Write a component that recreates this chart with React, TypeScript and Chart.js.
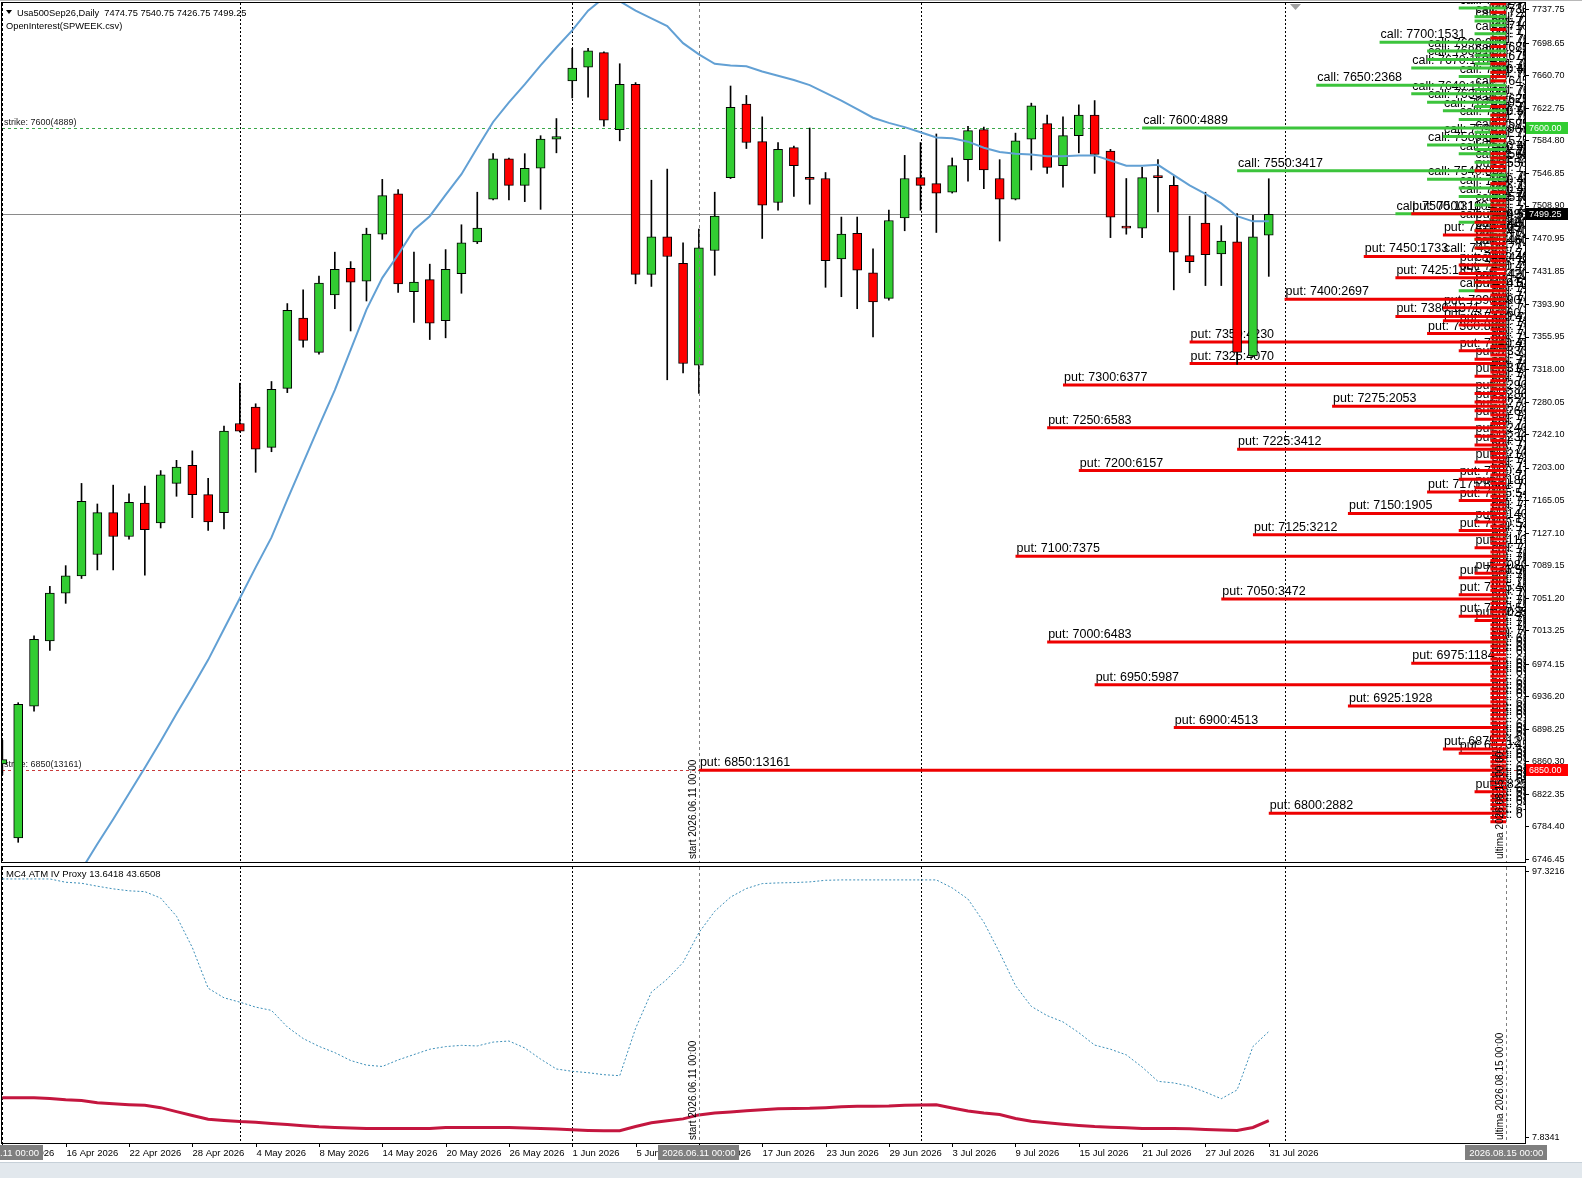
// App.tsx
import { useEffect, useRef } from "react";
import { Chart, registerables } from "chart.js";

// Register Chart.js components
Chart.register(...registerables);

// ---- daily bars, 10 Apr 2026 .. 31 Jul 2026 (the first one is cut by the left edge) ----
const opens = [
  6857.5, 6771, 6925, 7001, 7057, 7077, 7102, 7151, 7123, 7162, 7139, 7185, 7206, 7172, 7151, 7255,
  7274, 7227, 7296, 7378, 7338, 7405, 7436, 7421, 7476, 7523, 7409, 7423, 7375, 7430, 7467, 7517,
  7564, 7533, 7553, 7587, 7655, 7671, 7688, 7598, 7651, 7429, 7473, 7442, 7323, 7457, 7542, 7628,
  7584, 7513, 7577, 7542, 7541, 7447, 7477, 7431, 7401, 7495, 7542, 7535, 7525, 7563, 7598, 7541,
  7517, 7587, 7605, 7556, 7591, 7615, 7573, 7485, 7483, 7544, 7533, 7451, 7489, 7453, 7467, 7334,
  7474.75,
];
const highs = [
  6885, 6929, 7007, 7065, 7089, 7185, 7161, 7183, 7173, 7182, 7200, 7212, 7223, 7191, 7252, 7302,
  7278, 7304, 7395, 7411, 7427, 7455, 7444, 7483, 7540, 7528, 7455, 7441, 7458, 7487, 7525, 7570,
  7565, 7570, 7591, 7611, 7693, 7693, 7689, 7675, 7653, 7539, 7552, 7466, 7482, 7525, 7649, 7638,
  7613, 7583, 7579, 7600, 7548, 7496, 7496, 7459, 7504, 7568, 7583, 7593, 7565, 7602, 7601, 7563,
  7594, 7629, 7615, 7613, 7627, 7632, 7575, 7541, 7554, 7563, 7544, 7497, 7525, 7486, 7500, 7498,
  7540.75,
];
const lows = [
  6845, 6766, 6919, 6990, 7045, 7074, 7084, 7084, 7120, 7078, 7133, 7170, 7145, 7130, 7132, 7245,
  7198, 7222, 7291, 7344, 7336, 7389, 7363, 7398, 7470, 7408, 7373, 7353, 7355, 7407, 7465, 7516,
  7516, 7514, 7505, 7571, 7635, 7636, 7602, 7585, 7418, 7415, 7306, 7314, 7290, 7428, 7541, 7576,
  7471, 7504, 7520, 7511, 7414, 7403, 7389, 7356, 7399, 7480, 7504, 7478, 7524, 7538, 7529, 7468,
  7516, 7551, 7547, 7531, 7571, 7547, 7472, 7476, 7472, 7502, 7411, 7431, 7416, 7416, 7324, 7333,
  7426.75,
];
const closes = [
  6862.5, 6927, 7003, 7057, 7077, 7164, 7151, 7123, 7163, 7131, 7195, 7204, 7172, 7140, 7246, 7246,
  7225, 7295, 7387, 7352, 7419, 7435, 7420, 7476, 7521, 7418, 7420, 7372, 7435, 7466, 7483, 7564,
  7533, 7553, 7587, 7590, 7670, 7690, 7609, 7651, 7429, 7473, 7450, 7325, 7460, 7497, 7624, 7583,
  7510, 7575, 7556, 7540, 7445, 7476, 7434, 7397, 7492, 7541, 7533, 7524, 7556, 7597, 7551, 7517,
  7585, 7626, 7554, 7591, 7615, 7569, 7496, 7483, 7542, 7542, 7455, 7444, 7452, 7468, 7338, 7473,
  7499.25,
];
// blue average drawn on the price window
const avgLine = [
  6572, 6605, 6638, 6669, 6702, 6734, 6764, 6793, 6823, 6853, 6884, 6916, 6947, 6979, 7015, 7051,
  7087, 7122, 7166, 7209, 7252, 7294, 7341, 7388, 7425, 7452, 7481, 7497, 7522, 7546, 7577, 7607,
  7630, 7651, 7673, 7694, 7714, 7737, 7752, 7748, 7737, 7728, 7719, 7699, 7686, 7675, 7673, 7672,
  7666, 7661, 7656, 7650, 7641, 7632, 7622, 7612, 7606, 7601, 7595, 7589, 7588, 7584, 7577, 7572,
  7570, 7569, 7567, 7567, 7568, 7568, 7562, 7556, 7556, 7557, 7545, 7533, 7523, 7512, 7497, 7491,
  7491,
];
// MC4 ATM IV Proxy window (red solid, blue dotted)
const ivBase = [
  21.37, 21.37, 21.37, 21.15, 20.7, 20.48, 19.71, 19.37, 19.04, 18.82, 18.04, 16.71, 15.38, 14.16,
  13.72, 13.38, 13.16, 12.72, 12.38, 11.94, 11.6, 11.38, 11.16, 11.05, 11.05, 11.05, 11.05, 11.05,
  11.38, 11.38, 11.38, 11.38, 11.38, 11.16, 11.0, 10.83, 10.6, 10.38, 10.27, 10.27, 11.71, 12.94,
  13.6, 14.27, 15.6, 16.26, 16.6, 17.04, 17.37, 17.7, 17.76, 17.82, 18.04, 18.32, 18.48, 18.54,
  18.59, 18.82, 18.93, 19.04, 17.93, 16.93, 16.21, 15.71, 14.38, 13.49, 12.94, 12.5, 12.05, 11.71,
  11.49, 11.27, 11.05, 11.05, 11.05, 10.94, 10.71, 10.49, 10.38, 11.38, 13.6418,
];
const ivProxy = [
  94.98, 94.98, 94.98, 94.98, 93.87, 93.54, 92.54, 91.65, 90.99, 90.71, 88.55, 82.45, 71.89, 58.23,
  55.0, 53.54, 51.87, 50.76, 45.2, 41.3, 38.66, 36.56, 33.9, 32.35, 31.9, 34.1, 35.9, 37.7, 38.58,
  39.0, 38.8, 40.1, 40.46, 38.13, 34.38, 31.05, 30.27, 29.8, 29.13, 28.8, 44.7, 56.9, 61.3, 66.9,
  76.9, 84.1, 88.88, 91.77, 93.42, 93.65, 93.76, 93.99, 94.53, 94.66, 94.66, 94.66, 94.66, 94.66,
  94.66, 94.66, 91.97, 88.2, 80.43, 70.2, 59.1, 52.1, 49.0, 46.9, 43.27, 39.1, 37.7, 35.8, 31.7,
  26.9, 26.36, 25.25, 23.27, 21.05, 24.0, 38.6, 43.6508,
];

const priceTicks = [
  7737.75, 7698.65, 7660.7, 7622.75, 7584.8, 7546.85, 7508.9, 7470.95, 7431.85, 7393.9, 7355.95,
  7318.0, 7280.05, 7242.1, 7203.0, 7165.05, 7127.1, 7089.15, 7051.2, 7013.25, 6974.15, 6936.2,
  6898.25, 6860.3, 6822.35, 6784.4, 6746.45,
];
const ivTicks = [97.3216, 7.8341];

// ---- option open interest (SPWEEK.csv) ----
const callStrikes = [
  7745, 7740, 7735, 7730, 7725, 7720, 7715, 7710, 7705, 7700, 7695, 7690, 7685, 7680, 7675, 7670,
  7665, 7660, 7655, 7650, 7645, 7640, 7635, 7630, 7625, 7620, 7615, 7610, 7605, 7600, 7595, 7590,
  7585, 7580, 7575, 7570, 7565, 7560, 7555, 7550, 7545, 7540, 7535, 7530, 7525, 7520, 7515, 7510,
  7505, 7500, 7495, 7490, 7485, 7480, 7475, 7470, 7460, 7450, 7440, 7430, 7420, 7410, 7400, 7390,
  7380, 7370, 7360, 7350, 7340, 7330, 7320, 7310, 7300, 7275, 7250, 7225, 7200, 7175, 7150, 7125,
  7100, 7075, 7050, 7025, 7000,
];
const callOI = [
  180, 520, 150, 260, 330, 180, 120, 240, 150, 1531, 160, 915, 210, 890, 260, 1104,
  180, 420, 150, 2368, 230, 1136, 160, 872, 310, 705, 190, 520, 140, 4889, 230, 690,
  170, 846, 210, 480, 150, 380, 120, 3417, 200, 862, 160, 450, 180, 470, 140, 320,
  120, 1318, 150, 510, 130, 330, 110, 260, 280, 672, 230, 180, 210, 540, 190, 140,
  160, 120, 150, 130, 110, 120, 100, 90, 150, 80, 110, 70, 90, 60, 80, 50,
  90, 40, 60, 40, 80,
];
const putStrikes = [
  7745, 7735, 7715, 7705, 7695, 7685, 7675, 7665, 7660, 7655, 7635, 7625, 7615, 7610, 7605, 7595,
  7585, 7570, 7565, 7560, 7555, 7550, 7535, 7525, 7515, 7510, 7505,
  7500, 7495, 7490, 7485, 7480, 7475, 7470, 7465, 7460, 7455,
  7450, 7445, 7440, 7435, 7430, 7425, 7420, 7415, 7410, 7405,
  7400, 7395, 7390, 7385, 7380, 7375, 7370, 7365, 7360, 7355,
  7350, 7345, 7340, 7335, 7330, 7325, 7320, 7315, 7310, 7305,
  7300, 7295, 7290, 7285, 7280, 7275, 7270, 7265, 7260, 7255,
  7250, 7245, 7240, 7235, 7230, 7225, 7220, 7215, 7210, 7205,
  7200, 7195, 7190, 7185, 7180, 7175, 7170, 7165, 7160, 7155,
  7150, 7145, 7140, 7135, 7130, 7125, 7120, 7115, 7110, 7105,
  7100, 7095, 7090, 7085, 7080, 7075, 7070, 7065, 7060, 7055,
  7050, 7045, 7040, 7035, 7030, 7025, 7020, 7015, 7010, 7005,
  7000, 6995, 6990, 6985, 6980, 6975, 6970, 6965, 6960, 6955,
  6950, 6945, 6940, 6935, 6930, 6925, 6920, 6915, 6910, 6905,
  6900, 6895, 6890, 6885, 6880, 6875, 6870, 6865, 6860, 6855,
  6850, 6845, 6840, 6835, 6830, 6825, 6820, 6815, 6810, 6805,
  6800, 6795, 6790,
];
const putOI = [
  120, 150, 130, 160, 140, 170, 150, 180, 160, 190, 170, 180, 160, 190, 150, 170,
  190, 180, 160, 190, 170, 250, 190, 180, 170, 190, 160,
  1104, 180, 290, 190, 360, 705, 330, 200, 380, 190,
  1733, 180, 480, 190, 450, 1352, 310, 180, 390, 170,
  2697, 190, 690, 180, 1371, 660, 420, 190, 880, 170,
  4230, 180, 470, 160, 280, 4070, 190, 170, 300, 150,
  6377, 160, 320, 170, 250, 2053, 300, 150, 350, 170,
  6583, 180, 330, 160, 260, 3412, 190, 170, 300, 150,
  6157, 160, 470, 170, 320, 856, 190, 540, 180, 160,
  1905, 170, 300, 150, 520, 3212, 180, 160, 250, 170,
  7375, 150, 190, 160, 300, 500, 180, 160, 190, 480,
  3472, 170, 190, 150, 520, 290, 180, 160, 190, 150,
  6483, 170, 190, 160, 180, 1184, 150, 170, 190, 160,
  5987, 180, 150, 170, 190, 1928, 160, 180, 150, 170,
  4513, 190, 160, 180, 150, 712, 450, 170, 190, 160,
  13161, 180, 150, 170, 190, 300, 160, 180, 150, 170,
  2882, 160, 180,
];

const FIRST_BAR = "2026-04-10";
const MARK_DATE = "2026-04-11";
const START_DATE = "2026-06-11";
const EXPIRY_DATE = "2026-08-15";
const MONTH_STARTS = ["2026-05-01", "2026-06-01", "2026-07-01", "2026-08-01"];
const OI_DAYS = 0.00494; // line length in days per contract

const DAY = 86400000;
const MONTHS = ["Jan", "Feb", "Mar", "Apr", "May", "Jun", "Jul", "Aug", "Sep", "Oct", "Nov", "Dec"];
const dayNum = (s: string) => Date.parse(s + "T00:00:00Z") / DAY;

// trading days of the bars
const barDays: number[] = [];
for (let d = dayNum(FIRST_BAR); barDays.length < closes.length; d++) {
  const wd = new Date(d * DAY).getUTCDay();
  if (wd !== 0 && wd !== 6) barDays.push(d);
}
const LAST = barDays.length - 1;

// bar position of a time (past: bar that holds it, future: one slot per day)
function barAt(day: number) {
  if (day >= barDays[LAST]) return LAST + Math.floor(day - barDays[LAST]);
  let i = LAST;
  while (i > 0 && barDays[i] > day) i--;
  return i;
}

const markIdx = barAt(dayNum(MARK_DATE));
const startIdx = barAt(dayNum(START_DATE));
const expiryIdx = barAt(dayNum(EXPIRY_DATE));
const monthIdx = MONTH_STARTS.map((s) => barAt(dayNum(s)));

const fmtDay = (d: number) => {
  const t = new Date(d * DAY);
  return `${t.getUTCDate()} ${MONTHS[t.getUTCMonth()]} ${t.getUTCFullYear()}`;
};

type OiLine = { kind: string; strike: number; oi: number; from: number };
const makeLines = (kind: string, strikes: number[], ois: number[]): OiLine[] =>
  strikes
    .map((s, i) => ({
      kind,
      strike: s,
      oi: ois[i],
      from: Math.max(startIdx, barAt(dayNum(EXPIRY_DATE) - ois[i] * OI_DAYS)),
    }))
    .sort((a, b) => a.oi - b.oi);

const callLines = makeLines("call", callStrikes, callOI);
const putLines = makeLines("put", putStrikes, putOI);
const topCall = callLines[callLines.length - 1];
const topPut = putLines[putLines.length - 1];

const X_MIN = -0.0234;
const X_MAX = 96.186;
const FONT = "'Liberation Sans', Arial, sans-serif";
const GREEN = "#32cd32";
const RED = "#ff0000";

function hline(ctx: any, a: any, y: number, color: string, dash: number[]) {
  const yy = Math.round(y) + 0.5;
  ctx.beginPath();
  ctx.setLineDash(dash);
  ctx.strokeStyle = color;
  ctx.lineWidth = 1;
  ctx.moveTo(a.left, yy);
  ctx.lineTo(a.right, yy);
  ctx.stroke();
  ctx.setLineDash([]);
}

function vline(ctx: any, a: any, x: number, color: string, dash: number[]) {
  const xx = Math.round(x) + 0.5;
  ctx.beginPath();
  ctx.setLineDash(dash);
  ctx.strokeStyle = color;
  ctx.lineWidth = 1;
  ctx.moveTo(xx, a.top);
  ctx.lineTo(xx, a.bottom);
  ctx.stroke();
  ctx.setLineDash([]);
}

function upText(ctx: any, text: string, x: number, bottom: number) {
  ctx.save();
  ctx.translate(x, bottom);
  ctx.rotate(-Math.PI / 2);
  ctx.font = `10px ${FONT}`;
  ctx.fillStyle = "#000";
  ctx.textAlign = "left";
  ctx.textBaseline = "bottom";
  ctx.fillText(text, 0, 0);
  ctx.restore();
}

function clipArea(ctx: any, a: any) {
  ctx.beginPath();
  ctx.rect(a.left, a.top, a.right - a.left, a.bottom - a.top);
  ctx.clip();
}

function frame(ctx: any, a: any) {
  ctx.strokeStyle = "#000";
  ctx.lineWidth = 1;
  ctx.strokeRect(a.left - 0.5, a.top - 0.5, a.right - a.left + 1, a.bottom - a.top + 1);
}

function axisBox(ctx: any, a: any, y: number, text: string, bg: string) {
  ctx.font = `9px ${FONT}`;
  ctx.fillStyle = bg;
  ctx.fillRect(a.right + 1, Math.round(y) - 6, 42, 12);
  ctx.fillStyle = "#fff";
  ctx.textAlign = "left";
  ctx.textBaseline = "middle";
  ctx.fillText(text, a.right + 4, Math.round(y) + 0.5);
}

// fixed axis width and no extra room for the end labels
const fitAxis = (axis: any) => {
  axis.width = 57;
  axis.paddingTop = 0;
  axis.paddingBottom = 0;
};

const mainDecor = {
  id: "mainDecor",
  beforeDatasetsDraw(chart: any) {
    const { ctx, chartArea: a, scales } = chart;
    const px = (v: number) => scales.x.getPixelForValue(v);
    const py = (v: number) => scales.y.getPixelForValue(v);
    ctx.save();
    clipArea(ctx, a);
    hline(ctx, a, py(closes[LAST]), "#8a8a8a", []);
    hline(ctx, a, py(topCall.strike), "#3aa84a", [3, 3]);
    hline(ctx, a, py(topPut.strike), "#c83a3a", [3, 3]);
    monthIdx.forEach((i) => vline(ctx, a, px(i), "#000", [2, 2]));
    vline(ctx, a, px(markIdx), "#000", [3, 2]);

    ctx.fillStyle = "#222";
    ctx.font = `9px ${FONT}`;
    ctx.textAlign = "left";
    ctx.textBaseline = "alphabetic";
    ctx.fillText(`strike: ${topCall.strike}(${topCall.oi})`, a.left + 2, py(topCall.strike) - 3);
    ctx.fillText(`strike: ${topPut.strike}(${topPut.oi})`, a.left + 2, py(topPut.strike) - 3);

    ctx.fillStyle = "#000";
    ctx.font = `12.5px ${FONT}`;
    [...callLines, ...putLines].forEach((l) => {
      ctx.fillText(`${l.kind}: ${l.strike}:${l.oi}`, px(l.from) + 1, py(l.strike) - 4);
    });
    ctx.restore();
  },
  afterDatasetsDraw(chart: any) {
    const { ctx, chartArea: a, scales } = chart;
    const px = (v: number) => scales.x.getPixelForValue(v);
    ctx.save();
    clipArea(ctx, a);
    vline(ctx, a, px(startIdx), "#808080", [3, 3]);
    vline(ctx, a, px(expiryIdx), "#808080", [3, 3]);
    upText(ctx, `start ${START_DATE.replace(/-/g, ".")} 00:00`, Math.round(px(startIdx)) - 1, a.bottom - 3);
    upText(ctx, `ultima ${EXPIRY_DATE.replace(/-/g, ".")} 00:00`, Math.round(px(expiryIdx)) - 1, a.bottom - 3);
    ctx.restore();
  },
  afterDraw(chart: any) {
    const { ctx, chartArea: a, scales } = chart;
    const py = (v: number) => scales.y.getPixelForValue(v);
    ctx.save();
    frame(ctx, a);
    // header
    ctx.fillStyle = "#000";
    ctx.beginPath();
    ctx.moveTo(6, 10);
    ctx.lineTo(12, 10);
    ctx.lineTo(9, 14);
    ctx.closePath();
    ctx.fill();
    ctx.font = `9.3px ${FONT}`;
    ctx.textAlign = "left";
    ctx.textBaseline = "middle";
    const o = opens[LAST].toFixed(2), h = highs[LAST].toFixed(2), l = lows[LAST].toFixed(2), c = closes[LAST].toFixed(2);
    ctx.fillText(`Usa500Sep26,Daily  ${o} ${h} ${l} ${c}`, 17, 13);
    ctx.fillText("OpenInterest(SPWEEK.csv)", 6, 26);
    // shift marker
    ctx.fillStyle = "#a0a0a0";
    ctx.beginPath();
    ctx.moveTo(1290, a.top + 1);
    ctx.lineTo(1301, a.top + 1);
    ctx.lineTo(1295.5, a.top + 7);
    ctx.closePath();
    ctx.fill();
    // price boxes on the axis
    axisBox(ctx, a, py(topCall.strike), topCall.strike.toFixed(2), GREEN);
    axisBox(ctx, a, py(closes[LAST]), closes[LAST].toFixed(2), "#000");
    axisBox(ctx, a, py(topPut.strike), topPut.strike.toFixed(2), RED);
    ctx.restore();
  },
};

const subDecor = {
  id: "subDecor",
  beforeDatasetsDraw(chart: any) {
    const { ctx, chartArea: a, scales } = chart;
    const px = (v: number) => scales.x.getPixelForValue(v);
    ctx.save();
    clipArea(ctx, a);
    monthIdx.forEach((i) => vline(ctx, a, px(i), "#000", [2, 2]));
    vline(ctx, a, px(markIdx), "#000", [3, 2]);
    ctx.restore();
  },
  afterDatasetsDraw(chart: any) {
    const { ctx, chartArea: a, scales } = chart;
    const px = (v: number) => scales.x.getPixelForValue(v);
    ctx.save();
    clipArea(ctx, a);
    vline(ctx, a, px(startIdx), "#808080", [3, 3]);
    vline(ctx, a, px(expiryIdx), "#808080", [3, 3]);
    upText(ctx, `start ${START_DATE.replace(/-/g, ".")} 00:00`, Math.round(px(startIdx)) - 1, a.bottom - 3);
    upText(ctx, `ultima ${EXPIRY_DATE.replace(/-/g, ".")} 00:00`, Math.round(px(expiryIdx)) - 1, a.bottom - 3);
    ctx.fillStyle = "#000";
    ctx.font = `9.5px ${FONT}`;
    ctx.textAlign = "left";
    ctx.textBaseline = "middle";
    ctx.fillText(
      `MC4 ATM IV Proxy ${ivBase[LAST].toFixed(4)} ${ivProxy[LAST].toFixed(4)}`,
      a.left + 4,
      a.top + 7
    );
    ctx.restore();

    ctx.save();
    frame(ctx, a);
    // date axis
    ctx.font = `9.5px ${FONT}`;
    ctx.fillStyle = "#000";
    ctx.strokeStyle = "#000";
    ctx.textAlign = "left";
    ctx.textBaseline = "middle";
    for (let i = 0; i <= LAST; i += 4) {
      const x = Math.round(px(i)) + 0.5;
      ctx.beginPath();
      ctx.moveTo(x, a.bottom);
      ctx.lineTo(x, a.bottom + 4);
      ctx.stroke();
      ctx.fillText(fmtDay(barDays[i]), x, a.bottom + 10);
    }
    const boxes: [number, string][] = [
      [markIdx, MARK_DATE],
      [startIdx, START_DATE],
      [expiryIdx, EXPIRY_DATE],
    ];
    boxes.forEach(([i, d]) => {
      const t = `${d.replace(/-/g, ".")} 00:00`;
      const w = ctx.measureText(t).width + 8;
      const x = px(i);
      ctx.fillStyle = "#7f7f7f";
      ctx.fillRect(Math.round(x - w / 2), a.bottom + 2, Math.round(w), 15);
      ctx.fillStyle = "#fff";
      ctx.textAlign = "center";
      ctx.fillText(t, x, a.bottom + 10);
    });
    ctx.restore();
  },
};

export default function App() {
  const mainRef = useRef<HTMLCanvasElement>(null);
  const subRef = useRef<HTMLCanvasElement>(null);

  useEffect(() => {
    const mainCanvas = mainRef.current;
    const subCanvas = subRef.current;
    if (!mainCanvas || !subCanvas) return;

    const bars = closes.map((_, i) => i);
    const bodyColors = bars.map((i) => (closes[i] >= opens[i] ? GREEN : RED));

    const P = putLines.length;
    const C = callLines.length;
    const oiSets: any[] = [
      ...callLines.map((l, r) => ({
        type: "line",
        data: [
          { x: l.from, y: l.strike },
          { x: expiryIdx, y: l.strike },
        ],
        borderColor: "#3cc43c",
        borderWidth: 3,
        borderCapStyle: "butt",
        pointRadius: 0,
        order: 20 + P + (C - r),
      })),
      ...putLines.map((l, r) => ({
        type: "line",
        data: [
          { x: l.from, y: l.strike },
          { x: expiryIdx, y: l.strike },
        ],
        borderColor: "#ee0000",
        borderWidth: 3,
        borderCapStyle: "butt",
        pointRadius: 0,
        order: 10 + (P - r),
      })),
    ];

    const mainChart = new Chart(mainCanvas, {
      type: "bar",
      data: {
        datasets: [
          ...oiSets,
          {
            type: "bar",
            data: bars.map((i) => ({ x: i, y: [lows[i], highs[i]] })),
            backgroundColor: "#000",
            borderWidth: 0,
            grouped: false,
            barThickness: 1,
            maxBarThickness: 1,
            order: 2,
          },
          {
            type: "bar",
            data: bars.map((i) => ({ x: i, y: [opens[i], closes[i]] })),
            backgroundColor: bodyColors,
            borderColor: "#000",
            borderWidth: 1,
            borderSkipped: false,
            grouped: false,
            barThickness: 9,
            maxBarThickness: 9,
            minBarLength: 2,
            order: 1,
          },
          {
            type: "line",
            data: bars.map((i) => ({ x: i, y: avgLine[i] })),
            borderColor: "#62a0d4",
            borderWidth: 2,
            pointRadius: 0,
            order: 0,
          },
        ] as any,
      },
      options: {
        animation: false,
        responsive: false,
        events: [],
        layout: { padding: { left: 2, top: 3, right: 0, bottom: 2 } },
        plugins: { legend: { display: false }, tooltip: { enabled: false } },
        scales: {
          x: { type: "linear", min: X_MIN, max: X_MAX, display: false, offset: false },
          y: {
            position: "right",
            min: 6743.0,
            max: 7745.92,
            afterBuildTicks: (axis: any) => {
              axis.ticks = priceTicks.map((v) => ({ value: v }));
            },
            afterFit: fitAxis,
            grid: { drawOnChartArea: false, tickLength: 4, color: "#000" },
            border: { display: false },
            ticks: {
              autoSkip: false,
              padding: 3,
              color: "#000",
              font: { family: FONT, size: 9 },
              callback: (v: any) => Number(v).toFixed(2),
            },
          },
        },
      } as any,
      plugins: [mainDecor],
    });

    const subChart = new Chart(subCanvas, {
      type: "line",
      data: {
        datasets: [
          {
            data: bars.map((i) => ({ x: i, y: ivBase[i] })),
            borderColor: "#c4163f",
            borderWidth: 3,
            pointRadius: 0,
            order: 1,
          },
          {
            data: bars.map((i) => ({ x: i, y: ivProxy[i] })),
            borderColor: "#3d8fb8",
            borderWidth: 1,
            borderDash: [2, 2],
            pointRadius: 0,
            order: 0,
          },
        ],
      },
      options: {
        animation: false,
        responsive: false,
        events: [],
        layout: { padding: { left: 2, top: 3, right: 0, bottom: 19 } },
        plugins: { legend: { display: false }, tooltip: { enabled: false } },
        scales: {
          x: { type: "linear", min: X_MIN, max: X_MAX, display: false },
          y: {
            position: "right",
            min: 6.152,
            max: 99.003,
            afterBuildTicks: (axis: any) => {
              axis.ticks = ivTicks.map((v) => ({ value: v }));
            },
            afterFit: fitAxis,
            grid: { drawOnChartArea: false, tickLength: 4, color: "#000" },
            border: { display: false },
            ticks: {
              autoSkip: false,
              padding: 3,
              color: "#000",
              font: { family: FONT, size: 9 },
              callback: (v: any) => Number(v).toFixed(4),
            },
          },
        },
      } as any,
      plugins: [subDecor],
    });

    return () => {
      mainChart.destroy();
      subChart.destroy();
    };
  }, []);

  return (
    <div
      style={{
        position: "absolute",
        left: 0,
        top: 0,
        width: 1582,
        height: 1178,
        background: "#fff",
        overflow: "hidden",
      }}
    >
      <div style={{ position: "absolute", left: 0, top: 0, width: 1582, height: 1, background: "#b8b8b8" }} />
      <canvas
        ref={mainRef}
        width={1582}
        height={864}
        style={{ position: "absolute", left: 0, top: 0, width: 1582, height: 864 }}
      />
      <canvas
        ref={subRef}
        width={1582}
        height={298}
        style={{ position: "absolute", left: 0, top: 864, width: 1582, height: 298 }}
      />
      <div
        style={{
          position: "absolute",
          left: 0,
          top: 1162,
          width: 1582,
          height: 16,
          background: "#e2e8ed",
          borderTop: "1px solid #c6d0d8",
        }}
      />
    </div>
  );
}
